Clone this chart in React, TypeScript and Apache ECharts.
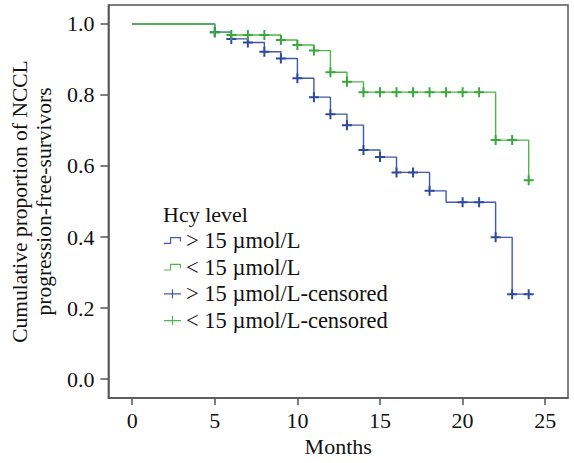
import React, { useEffect, useRef } from "react";
import * as echarts from "echarts";

// Kaplan-Meier steps (time in months, survival proportion after the step)
const blueTimes = [0, 5, 6, 7, 8, 9, 10, 11, 12, 13, 14, 15, 16, 18, 19, 22, 23, 24];
const blueSurv = [1, 0.977, 0.958, 0.948, 0.922, 0.903, 0.847, 0.794, 0.746, 0.715, 0.645, 0.625, 0.582, 0.53, 0.498, 0.399, 0.239, 0.239];
const blueCensorTimes = [5, 6, 7, 8, 9, 10, 11, 12, 13, 14, 15, 16, 17, 18, 20, 21, 22, 23, 24];
const blueCensorSurv = [0.977, 0.958, 0.948, 0.922, 0.903, 0.847, 0.794, 0.746, 0.715, 0.645, 0.625, 0.582, 0.582, 0.53, 0.498, 0.498, 0.399, 0.239, 0.239];

const greenTimes = [0, 5, 6, 9, 10, 11, 12, 13, 14, 22, 24];
const greenSurv = [1, 0.977, 0.969, 0.955, 0.941, 0.925, 0.864, 0.837, 0.808, 0.673, 0.56];
const greenCensorTimes = [5, 6, 7, 8, 9, 10, 11, 12, 13, 14, 15, 16, 17, 18, 19, 20, 21, 22, 23, 24];
const greenCensorSurv = [0.977, 0.969, 0.969, 0.969, 0.955, 0.941, 0.925, 0.864, 0.837, 0.808, 0.808, 0.808, 0.808, 0.808, 0.808, 0.808, 0.808, 0.673, 0.673, 0.56];

const xTicks = [0, 5, 10, 15, 20, 25];
const yTicks = [0, 0.2, 0.4, 0.6, 0.8, 1.0];

const seriesNames = ["> 15 µmol/L", "< 15 µmol/L", "> 15 µmol/L-censored", "< 15 µmol/L-censored"];
const legendTitle = "Hcy level";
const xName = "Months";
const yName = "Cumulative proportion of NCCL\nprogression-free-survivors";

const FONT = "Liberation Serif";
const BLUE = "#4159a8";
const BLUE_MARK = "#2f4a9c";
const GREEN = "#4cb84a";
const GREEN_MARK = "#3aa83e";
const AXIS = "#555555";

const zip = (a: number[], b: number[]) => a.map((v, i) => [v, b[i]]);

const CROSS = "path://M4,0H6V4H10V6H6V10H4V6H0V4H4Z";
const LEGEND_CROSS = "path://M0,4.4H8.4V0H9.6V4.4H18V5.6H9.6V10H8.4V5.6H0Z";
const LEGEND_STEP = "path://M0,7.4H6.4V1.4H18V6H16.8V2.6H7.6V8.6H0Z";

export default function App() {
  const ref = useRef<HTMLDivElement>(null);
  useEffect(() => {
    if (!ref.current) return;
    const chart = echarts.init(ref.current, undefined, { renderer: "svg" });
    chart.setOption({
      animation: false,
      backgroundColor: "#ffffff",
      textStyle: { fontFamily: FONT },
      grid: {
        left: 104,
        right: 6,
        top: 5,
        bottom: 65,
        show: true,
        borderColor: AXIS,
        borderWidth: 1.5,
        backgroundColor: "transparent",
      },
      title: {
        text: legendTitle,
        left: 163,
        top: 203,
        padding: 0,
        textStyle: { fontFamily: FONT, fontSize: 22, fontWeight: "normal", color: "#111", lineHeight: 22 },
      },
      legend: {
        orient: "vertical",
        left: 164,
        top: 229,
        padding: 0,
        itemWidth: 17,
        itemHeight: 10,
        itemGap: 3.7,
        textStyle: { fontFamily: FONT, fontSize: 22.5, color: "#111", lineHeight: 22 },
        data: [
          { name: seriesNames[0], icon: LEGEND_STEP, itemStyle: { color: BLUE, borderWidth: 0 } },
          { name: seriesNames[1], icon: LEGEND_STEP, itemStyle: { color: GREEN, borderWidth: 0 } },
          { name: seriesNames[2], icon: LEGEND_CROSS, itemStyle: { color: BLUE, borderWidth: 0 } },
          { name: seriesNames[3], icon: LEGEND_CROSS, itemStyle: { color: GREEN, borderWidth: 0 } },
        ],
      },
      xAxis: {
        type: "value",
        min: -1.44,
        max: 26.38,
        name: xName,
        nameLocation: "middle",
        nameGap: 33,
        nameTextStyle: { fontFamily: FONT, fontSize: 22, color: "#111" },
        axisLine: { show: true, onZero: false, lineStyle: { color: AXIS, width: 1.5 } },
        axisTick: { show: true, length: 7, customValues: xTicks, lineStyle: { color: AXIS, width: 1.5 } },
        axisLabel: { customValues: xTicks, margin: 11, fontFamily: FONT, fontSize: 22, color: "#111" },
        splitLine: { show: false },
      },
      yAxis: {
        type: "value",
        min: -0.0535,
        max: 1.0535,
        name: yName,
        nameLocation: "middle",
        nameGap: 52,
        nameTextStyle: { fontFamily: FONT, fontSize: 21.5, color: "#111", lineHeight: 24 },
        axisLine: { show: true, onZero: false, lineStyle: { color: AXIS, width: 1.5 } },
        axisTick: { show: true, length: 8, customValues: yTicks, lineStyle: { color: AXIS, width: 1.5 } },
        axisLabel: {
          customValues: yTicks,
          margin: 14,
          fontFamily: FONT,
          fontSize: 22,
          color: "#111",
          formatter: (v: number) => v.toFixed(1),
        },
        splitLine: { show: false },
      },
      series: [
        {
          name: seriesNames[0],
          type: "line",
          step: "end",
          data: zip(blueTimes, blueSurv),
          showSymbol: false,
          symbol: "none",
          lineStyle: { color: BLUE, width: 1.4 },
          itemStyle: { color: BLUE },
          z: 2,
        },
        {
          name: seriesNames[1],
          type: "line",
          step: "end",
          data: zip(greenTimes, greenSurv),
          showSymbol: false,
          symbol: "none",
          lineStyle: { color: GREEN, width: 1.4 },
          itemStyle: { color: GREEN },
          z: 3,
        },
        {
          name: seriesNames[2],
          type: "scatter",
          data: zip(blueCensorTimes, blueCensorSurv),
          symbol: CROSS,
          symbolSize: 10,
          itemStyle: { color: BLUE_MARK, opacity: 1 },
          z: 4,
        },
        {
          name: seriesNames[3],
          type: "scatter",
          data: zip(greenCensorTimes, greenCensorSurv),
          symbol: CROSS,
          symbolSize: 10,
          itemStyle: { color: GREEN_MARK, opacity: 1 },
          z: 5,
        },
      ],
    });
    return () => chart.dispose();
  }, []);
  return <div ref={ref} style={{ width: 574, height: 463, position: "fixed", left: 0, top: 0 }} />;
}
